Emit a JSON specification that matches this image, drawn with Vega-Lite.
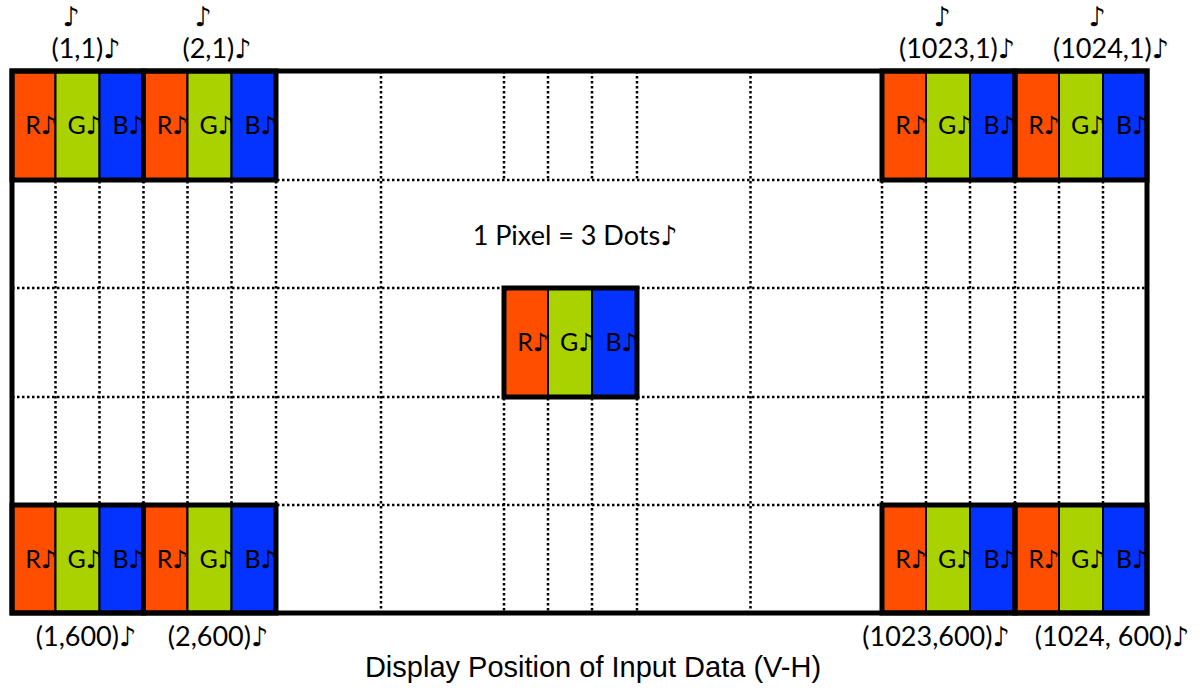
{
  "$schema": "https://vega.github.io/schema/vega-lite/v6.json",
  "width": 1200,
  "height": 691,
  "autosize": "none",
  "padding": 0,
  "background": "white",
  "config": {"view": {"stroke": null}},
  "datasets": {
    "dots": [
      {"x": 12, "x2": 55.5, "mx": 34, "y": 71, "y2": 180, "my": 126, "c": "R"},
      {"x": 55.5, "x2": 99.5, "mx": 77.5, "y": 71, "y2": 180, "my": 126, "c": "G"},
      {"x": 99.5, "x2": 143.5, "mx": 121.5, "y": 71, "y2": 180, "my": 126, "c": "B"},
      {"x": 143.5, "x2": 187.5, "mx": 165.5, "y": 71, "y2": 180, "my": 126, "c": "R"},
      {"x": 187.5, "x2": 231.5, "mx": 209.5, "y": 71, "y2": 180, "my": 126, "c": "G"},
      {"x": 231.5, "x2": 276, "mx": 253.5, "y": 71, "y2": 180, "my": 126, "c": "B"},
      {"x": 882, "x2": 926, "mx": 904, "y": 71, "y2": 180, "my": 126, "c": "R"},
      {"x": 926, "x2": 970, "mx": 948, "y": 71, "y2": 180, "my": 126, "c": "G"},
      {"x": 970, "x2": 1015, "mx": 992.5, "y": 71, "y2": 180, "my": 126, "c": "B"},
      {"x": 1015, "x2": 1059, "mx": 1037, "y": 71, "y2": 180, "my": 126, "c": "R"},
      {"x": 1059, "x2": 1103, "mx": 1081, "y": 71, "y2": 180, "my": 126, "c": "G"},
      {"x": 1103, "x2": 1147, "mx": 1125, "y": 71, "y2": 180, "my": 126, "c": "B"},
      {"x": 504, "x2": 548, "mx": 526, "y": 288, "y2": 397, "my": 343, "c": "R"},
      {"x": 548, "x2": 592, "mx": 570, "y": 288, "y2": 397, "my": 343, "c": "G"},
      {"x": 592, "x2": 637, "mx": 614.5, "y": 288, "y2": 397, "my": 343, "c": "B"},
      {"x": 12, "x2": 55.5, "mx": 34, "y": 505, "y2": 613, "my": 560, "c": "R"},
      {"x": 55.5, "x2": 99.5, "mx": 77.5, "y": 505, "y2": 613, "my": 560, "c": "G"},
      {"x": 99.5, "x2": 143.5, "mx": 121.5, "y": 505, "y2": 613, "my": 560, "c": "B"},
      {"x": 143.5, "x2": 187.5, "mx": 165.5, "y": 505, "y2": 613, "my": 560, "c": "R"},
      {"x": 187.5, "x2": 231.5, "mx": 209.5, "y": 505, "y2": 613, "my": 560, "c": "G"},
      {"x": 231.5, "x2": 276, "mx": 253.5, "y": 505, "y2": 613, "my": 560, "c": "B"},
      {"x": 882, "x2": 926, "mx": 904, "y": 505, "y2": 613, "my": 560, "c": "R"},
      {"x": 926, "x2": 970, "mx": 948, "y": 505, "y2": 613, "my": 560, "c": "G"},
      {"x": 970, "x2": 1015, "mx": 992.5, "y": 505, "y2": 613, "my": 560, "c": "B"},
      {"x": 1015, "x2": 1059, "mx": 1037, "y": 505, "y2": 613, "my": 560, "c": "R"},
      {"x": 1059, "x2": 1103, "mx": 1081, "y": 505, "y2": 613, "my": 560, "c": "G"},
      {"x": 1103, "x2": 1147, "mx": 1125, "y": 505, "y2": 613, "my": 560, "c": "B"}
    ],
    "grid": [
      {"x": 12, "x2": 1147, "y": 180, "y2": 180},
      {"x": 12, "x2": 1147, "y": 288, "y2": 288},
      {"x": 12, "x2": 1147, "y": 397, "y2": 397},
      {"x": 12, "x2": 1147, "y": 505, "y2": 505},
      {"x": 55.5, "x2": 55.5, "y": 71, "y2": 613},
      {"x": 99.5, "x2": 99.5, "y": 71, "y2": 613},
      {"x": 143.5, "x2": 143.5, "y": 71, "y2": 613},
      {"x": 187.5, "x2": 187.5, "y": 71, "y2": 613},
      {"x": 231.5, "x2": 231.5, "y": 71, "y2": 613},
      {"x": 276, "x2": 276, "y": 71, "y2": 613},
      {"x": 381, "x2": 381, "y": 71, "y2": 613},
      {"x": 504, "x2": 504, "y": 71, "y2": 180},
      {"x": 548, "x2": 548, "y": 71, "y2": 180},
      {"x": 592, "x2": 592, "y": 71, "y2": 180},
      {"x": 637, "x2": 637, "y": 71, "y2": 180},
      {"x": 504, "x2": 504, "y": 288, "y2": 613},
      {"x": 548, "x2": 548, "y": 288, "y2": 613},
      {"x": 592, "x2": 592, "y": 288, "y2": 613},
      {"x": 637, "x2": 637, "y": 288, "y2": 613},
      {"x": 750.5, "x2": 750.5, "y": 71, "y2": 613},
      {"x": 882, "x2": 882, "y": 71, "y2": 613},
      {"x": 926, "x2": 926, "y": 71, "y2": 613},
      {"x": 970, "x2": 970, "y": 71, "y2": 613},
      {"x": 1015, "x2": 1015, "y": 71, "y2": 613},
      {"x": 1059, "x2": 1059, "y": 71, "y2": 613},
      {"x": 1103, "x2": 1103, "y": 71, "y2": 613}
    ],
    "boxes": [
      {"x": 12, "x2": 143.5, "y": 71, "y2": 180},
      {"x": 143.5, "x2": 276, "y": 71, "y2": 180},
      {"x": 882, "x2": 1015, "y": 71, "y2": 180},
      {"x": 1015, "x2": 1147, "y": 71, "y2": 180},
      {"x": 12, "x2": 143.5, "y": 505, "y2": 613},
      {"x": 143.5, "x2": 276, "y": 505, "y2": 613},
      {"x": 882, "x2": 1015, "y": 505, "y2": 613},
      {"x": 1015, "x2": 1147, "y": 505, "y2": 613},
      {"x": 504, "x2": 637, "y": 288, "y2": 397},
      {"x": 12, "x2": 1147, "y": 71, "y2": 613}
    ],
    "labels": [
      {"x": 71, "y": 18, "t": "♪"},
      {"x": 86, "y": 50, "t": "(1,1)♪"},
      {"x": 203, "y": 18, "t": "♪"},
      {"x": 217, "y": 50, "t": "(2,1)♪"},
      {"x": 942, "y": 18, "t": "♪"},
      {"x": 957, "y": 50, "t": "(1023,1)♪"},
      {"x": 1097, "y": 18, "t": "♪"},
      {"x": 1111, "y": 50, "t": "(1024,1)♪"},
      {"x": 86, "y": 638, "t": "(1,600)♪"},
      {"x": 218, "y": 638, "t": "(2,600)♪"},
      {"x": 936, "y": 638, "t": "(1023,600)♪"},
      {"x": 1112, "y": 638, "t": "(1024, 600)♪"},
      {"x": 575, "y": 237, "t": "1 Pixel = 3 Dots♪"}
    ],
    "title": [
      {"x": 593, "y": 668, "t": "Display Position of Input Data (V-H)"}
    ]
  },
  "layer": [
    {
      "data": {"name": "grid"},
      "mark": {"type": "rule", "color": "black", "strokeWidth": 2.5, "strokeDash": [2.5, 2.5]},
      "encoding": {
        "x": {"field": "x", "type": "quantitative", "scale": {"domain": [0, 1200], "nice": false, "zero": false}, "axis": null},
        "x2": {"field": "x2"},
        "y": {"field": "y", "type": "quantitative", "scale": {"domain": [0, 691], "nice": false, "zero": false, "reverse": true}, "axis": null},
        "y2": {"field": "y2"}
      }
    },
    {
      "data": {"name": "dots"},
      "mark": {"type": "rect", "stroke": "black", "strokeWidth": 2},
      "encoding": {
        "x": {"field": "x", "type": "quantitative"},
        "x2": {"field": "x2"},
        "y": {"field": "y", "type": "quantitative"},
        "y2": {"field": "y2"},
        "fill": {"field": "c", "type": "nominal", "scale": {"domain": ["R", "G", "B"], "range": ["#FF4E00", "#AAD200", "#0433FF"]}, "legend": null}
      }
    },
    {
      "data": {"name": "dots"},
      "transform": [{"calculate": "datum.c + '♪'", "as": "lab"}],
      "mark": {"type": "text", "fontSize": 25, "font": "Lato, DejaVu Sans", "dx": 7, "align": "center", "baseline": "middle", "color": "black"},
      "encoding": {
        "x": {"field": "mx", "type": "quantitative"},
        "y": {"field": "my", "type": "quantitative"},
        "text": {"field": "lab"}
      }
    },
    {
      "data": {"name": "boxes"},
      "mark": {"type": "rect", "fill": null, "filled": false, "stroke": "black", "strokeWidth": 5},
      "encoding": {
        "x": {"field": "x", "type": "quantitative"},
        "x2": {"field": "x2"},
        "y": {"field": "y", "type": "quantitative"},
        "y2": {"field": "y2"}
      }
    },
    {
      "data": {"name": "labels"},
      "mark": {"type": "text", "fontSize": 27, "font": "Lato, DejaVu Sans", "align": "center", "baseline": "middle", "color": "black"},
      "encoding": {
        "x": {"field": "x", "type": "quantitative"},
        "y": {"field": "y", "type": "quantitative"},
        "text": {"field": "t"}
      }
    },
    {
      "data": {"name": "title"},
      "mark": {"type": "text", "fontSize": 29, "font": "Liberation Sans", "align": "center", "baseline": "middle", "color": "black"},
      "encoding": {
        "x": {"field": "x", "type": "quantitative"},
        "y": {"field": "y", "type": "quantitative"},
        "text": {"field": "t"}
      }
    }
  ]
}
